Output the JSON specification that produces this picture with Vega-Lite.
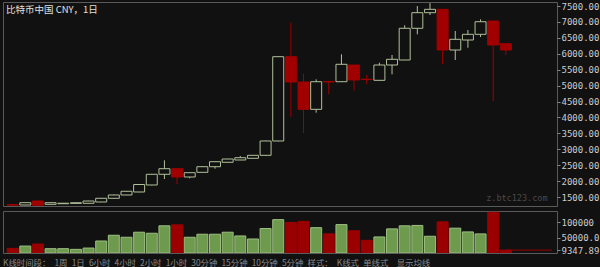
{
  "$schema": "https://vega.github.io/schema/vega-lite/v6.json",
  "background": "#111111",
  "padding": {"left": 2, "top": 1, "right": 0, "bottom": 0},
  "spacing": 3,
  "config": {
    "view": {"stroke": "#5a5a5a", "strokeWidth": 1},
    "axis": {"domain": false, "grid": false, "tickColor": "#888888", "tickSize": 3, "labelColor": "#cccccc", "labelFont": "DejaVu Sans Mono", "labelFontSize": 9, "labelPadding": 1, "labelOverlap": false, "labelSeparation": 0, "labelFlush": false, "labelBound": false, "title": null}
  },
  "datasets": {
    "k": [
      {"i": 0, "o": 1262, "h": 1270, "l": 1235, "c": 1245, "v": 15000},
      {"i": 1, "o": 1249, "h": 1330, "l": 1245, "c": 1322, "v": 22500},
      {"i": 2, "o": 1375, "h": 1380, "l": 1235, "c": 1240, "v": 29100},
      {"i": 3, "o": 1271, "h": 1325, "l": 1265, "c": 1322, "v": 14000},
      {"i": 4, "o": 1290, "h": 1310, "l": 1285, "c": 1305, "v": 14000},
      {"i": 5, "o": 1300, "h": 1325, "l": 1295, "c": 1320, "v": 11800},
      {"i": 6, "o": 1303, "h": 1380, "l": 1300, "c": 1375, "v": 16000},
      {"i": 7, "o": 1344, "h": 1470, "l": 1340, "c": 1460, "v": 38900},
      {"i": 8, "o": 1460, "h": 1575, "l": 1455, "c": 1564, "v": 57500},
      {"i": 9, "o": 1564, "h": 1690, "l": 1560, "c": 1680, "v": 51000},
      {"i": 10, "o": 1658, "h": 1905, "l": 1650, "c": 1893, "v": 67300},
      {"i": 11, "o": 1878, "h": 2225, "l": 1870, "c": 2214, "v": 64000},
      {"i": 12, "o": 2214, "h": 2653, "l": 2066, "c": 2390, "v": 88000},
      {"i": 13, "o": 2390, "h": 2400, "l": 1900, "c": 2129, "v": 91200},
      {"i": 14, "o": 2129, "h": 2270, "l": 2088, "c": 2264, "v": 51000},
      {"i": 15, "o": 2276, "h": 2460, "l": 2270, "c": 2452, "v": 60800},
      {"i": 16, "o": 2452, "h": 2615, "l": 2390, "c": 2609, "v": 60800},
      {"i": 17, "o": 2591, "h": 2700, "l": 2585, "c": 2694, "v": 67300},
      {"i": 18, "o": 2663, "h": 2788, "l": 2660, "c": 2735, "v": 55200},
      {"i": 19, "o": 2716, "h": 2815, "l": 2710, "c": 2810, "v": 45400},
      {"i": 20, "o": 2810, "h": 3270, "l": 2800, "c": 3260, "v": 79400},
      {"i": 21, "o": 3260, "h": 5915, "l": 3250, "c": 5908, "v": 108000},
      {"i": 22, "o": 5908, "h": 6975, "l": 4023, "c": 5113, "v": 99000},
      {"i": 23, "o": 5113, "h": 5374, "l": 3511, "c": 4255, "v": 102600},
      {"i": 24, "o": 4255, "h": 5198, "l": 4149, "c": 5122, "v": 82000},
      {"i": 25, "o": 5130, "h": 5135, "l": 4727, "c": 5115, "v": 62000},
      {"i": 26, "o": 5122, "h": 5983, "l": 5115, "c": 5669, "v": 92000},
      {"i": 27, "o": 5647, "h": 5650, "l": 4852, "c": 5176, "v": 72000},
      {"i": 28, "o": 5200, "h": 5333, "l": 5041, "c": 5190, "v": 41000},
      {"i": 29, "o": 5166, "h": 5719, "l": 5160, "c": 5647, "v": 52000},
      {"i": 30, "o": 5647, "h": 5961, "l": 5355, "c": 5826, "v": 78100},
      {"i": 31, "o": 5804, "h": 6894, "l": 5800, "c": 6800, "v": 88000},
      {"i": 32, "o": 6800, "h": 7500, "l": 6611, "c": 7290, "v": 89200},
      {"i": 33, "o": 7290, "h": 7590, "l": 7217, "c": 7396, "v": 54200},
      {"i": 34, "o": 7396, "h": 7400, "l": 5669, "c": 6118, "v": 101000},
      {"i": 35, "o": 6118, "h": 6715, "l": 5804, "c": 6454, "v": 80400},
      {"i": 36, "o": 6432, "h": 6746, "l": 6190, "c": 6611, "v": 68300},
      {"i": 37, "o": 6611, "h": 7082, "l": 6526, "c": 7007, "v": 61800},
      {"i": 38, "o": 7029, "h": 7035, "l": 4516, "c": 6275, "v": 131700},
      {"i": 39, "o": 6316, "h": 6320, "l": 5961, "c": 6118, "v": 9347.89}
    ]
  },
  "vconcat": [
    {
      "width": 554,
      "height": 204,
      "title": {"text": "比特币中国 CNY，1日", "anchor": "start", "orient": "top", "offset": -12, "dx": 3, "color": "#e0e0e0", "font": "Noto Sans CJK SC", "fontSize": 9.5, "fontWeight": "normal"},
      "data": {"name": "k"},
      "layer": [
        {
          "mark": {"type": "rule", "strokeWidth": 1, "clip": true},
          "encoding": {
            "x": {"field": "i", "type": "quantitative", "scale": {"domain": [-0.37, 42.65], "nice": false, "zero": false}, "axis": null},
            "y": {"field": "l", "type": "quantitative", "scale": {"domain": [1218, 7626], "nice": false, "zero": false}, "axis": {"orient": "right", "values": [1500, 2000, 2500, 3000, 3500, 4000, 4500, 5000, 5500, 6000, 6500, 7000, 7500], "format": ".2f", "labelOverlap": false, "labelSeparation": 0, "labelBound": false}},
            "y2": {"field": "h"},
            "color": {"condition": {"test": "datum.c >= datum.o", "value": "#b0c09a"}, "value": "#a00000"}
          }
        },
        {
          "mark": {"type": "bar", "width": 11, "strokeWidth": 1, "clip": true},
          "encoding": {
            "x": {"field": "i", "type": "quantitative", "axis": null},
            "y": {"field": "o", "type": "quantitative", "axis": {"orient": "right", "values": [1500, 2000, 2500, 3000, 3500, 4000, 4500, 5000, 5500, 6000, 6500, 7000, 7500], "format": ".2f", "labelOverlap": false, "labelSeparation": 0, "labelBound": false}},
            "y2": {"field": "c"},
            "fill": {"condition": {"test": "datum.c >= datum.o", "value": "#111111"}, "value": "#a00000"},
            "stroke": {"condition": {"test": "datum.c >= datum.o", "value": "#b0c09a"}, "value": "#a00000"}
          }
        },
        {
          "data": {"values": [{"t": "z.btc123.com"}]},
          "mark": {"type": "text", "align": "right", "baseline": "middle", "font": "DejaVu Sans Mono", "fontSize": 8.5, "color": "#4a4a4a"},
          "encoding": {
            "x": {"datum": 42.3, "type": "quantitative", "axis": null},
            "y": {"datum": 1470, "type": "quantitative", "axis": {"orient": "right", "values": [1500, 2000, 2500, 3000, 3500, 4000, 4500, 5000, 5500, 6000, 6500, 7000, 7500], "format": ".2f", "labelOverlap": false, "labelSeparation": 0, "labelBound": false}},
            "text": {"field": "t"}
          }
        }
      ]
    },
    {
      "width": 554,
      "height": 42,
      "title": {"text": "K线时间段：\u20021周\u20021日\u20026小时\u20024小时\u20022小时\u20021小时\u200230分钟\u200215分钟\u200210分钟\u20025分钟\u2002样式：\u2002K线式\u2002单线式\u2002\u2002显示均线", "anchor": "start", "orient": "bottom", "offset": 4, "color": "#8a8a8a", "font": "Noto Sans CJK SC", "fontSize": 8.4, "fontWeight": "normal"},
      "layer": [
        {
          "data": {"name": "k"},
          "mark": {"type": "bar", "width": 11, "strokeWidth": 1, "clip": true},
          "encoding": {
            "x": {"field": "i", "type": "quantitative", "scale": {"domain": [-0.37, 42.65], "nice": false, "zero": false}, "axis": null},
            "y": {"field": "v", "type": "quantitative", "scale": {"domain": [0, 136000], "nice": false}, "axis": {"orient": "right", "values": [9347.89, 50000, 100000], "labelOverlap": false, "labelSeparation": 0, "labelBound": false, "labelExpr": "datum.value == 100000 ? '100000' : datum.value == 50000 ? '50000.0' : '9347.89'"}},
            "fill": {"condition": {"test": "datum.c >= datum.o", "value": "#6e9a4e"}, "value": "#9a0000"},
            "stroke": {"condition": {"test": "datum.c >= datum.o", "value": "#9cbf80"}, "value": "#9a0000"}
          }
        },
        {
          "data": {"values": [{"v": 9347.89}]},
          "mark": {"type": "rule", "color": "#9a0000", "strokeWidth": 1},
          "encoding": {
            "x": {"datum": 39, "type": "quantitative", "axis": null},
            "x2": {"datum": 42.65},
            "y": {"field": "v", "type": "quantitative", "axis": {"orient": "right", "values": [9347.89, 50000, 100000], "labelOverlap": false, "labelSeparation": 0, "labelBound": false, "labelExpr": "datum.value == 100000 ? '100000' : datum.value == 50000 ? '50000.0' : '9347.89'"}}
          }
        }
      ]
    }
  ]
}
